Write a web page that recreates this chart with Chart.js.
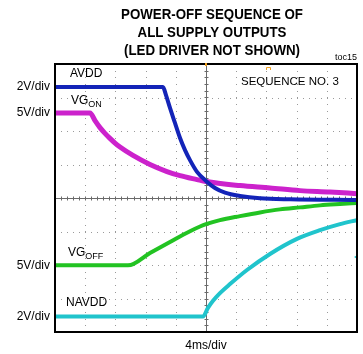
<!DOCTYPE html>
<html>
<head>
<meta charset="utf-8">
<script src="https://cdn.jsdelivr.net/npm/chart.js@4.4.1/dist/chart.umd.min.js"></script>
<style>
  html, body { margin: 0; padding: 0; background: #fff; }
  #wrap { width: 363px; height: 354px; position: relative; }
</style>
</head>
<body>
<div id="wrap"><canvas id="c" width="363" height="354"></canvas></div>
<script>
// Time in ms (4 ms/div, trigger at 0), vertical position in screen divisions
const avddT  = [-20, -5.70, -5.30, -4.77, -4.11, -3.44, -2.78, -2.12, -1.19, 0.0, 1.19, 2.52, 4.50, 7.15, 11.13, 20];
const avddV  = [3.31, 3.31, 3.07, 2.69, 2.24, 1.79, 1.43, 1.13, 0.78, 0.51, 0.30, 0.16, 0.06, -0.01, -0.04, -0.06];

const vgonT  = [-20, -15.36, -14.70, -14.04, -13.38, -12.72, -12.05, -11.39, -9.67, -7.42, -5.17, -3.44, -1.19, 0, 4.50, 8.48, 12.45, 16.42, 20];
const vgonV  = [2.54, 2.54, 2.31, 2.10, 1.93, 1.78, 1.64, 1.52, 1.27, 1.00, 0.79, 0.67, 0.55, 0.49, 0.37, 0.30, 0.22, 0.18, 0.13];

const vgoffT = [-20, -10.33, -7.42, -4.77, -2.12, -0.79, 0, 1.85, 4.50, 7.15, 9.80, 12.45, 15.10, 17.75, 20];
const vgoffV = [-2.01, -2.01, -1.64, -1.31, -0.99, -0.85, -0.78, -0.66, -0.54, -0.43, -0.34, -0.28, -0.22, -0.18, -0.15];

const navddT = [-20, -0.40, 0.26, 0.93, 1.85, 3.18, 5.43, 8.48, 12.05, 15.10, 17.75, 20];
const navddV = [-3.54, -3.54, -3.28, -3.07, -2.84, -2.57, -2.15, -1.67, -1.22, -0.96, -0.78, -0.66];

// Reference level marker for the NAVDD channel (right edge)
const navddRefLevel = [-1.76];

const titleLines = ['POWER-OFF SEQUENCE OF', 'ALL SUPPLY OUTPUTS', '(LED DRIVER NOT SHOWN)'];
const scaleLabels = ['2V/div', '5V/div', '5V/div', '2V/div'];
const scaleLabelLevels = [3.31, 2.54, -2.01, -3.54];
const xDivLabel = '4ms/div';

const pts = (t, v) => t.map((x, i) => ({ x, y: v[i] }));

const FONT = '"Liberation Sans", Arial, sans-serif';

// draws a name with a subscript right after it
function subLabel(ctx, main, sub, x, y, subDy) {
  ctx.font = '12px ' + FONT;
  ctx.fillText(main, x, y);
  const w = ctx.measureText(main).width;
  ctx.font = '9px ' + FONT;
  ctx.fillText(sub, x + w, y + subDy);
}

const scopeGrid = {
  id: 'scopeGrid',
  beforeDatasetsDraw(chart) {
    const { ctx, chartArea: a, scales: { x, y } } = chart;
    ctx.save();
    // dotted graticule
    ctx.fillStyle = '#9a9a9a';
    for (let t = -16; t <= 16; t += 4) {
      if (t === 0) continue;
      const px = Math.round(x.getPixelForValue(t));
      for (let v = -4; v <= 4.001; v += 0.2) {
        ctx.fillRect(px, Math.round(y.getPixelForValue(v)), 1, 1);
      }
    }
    for (let v = -3; v <= 3; v += 1) {
      if (v === 0) continue;
      const py = Math.round(y.getPixelForValue(v));
      for (let t = -20; t <= 20.001; t += 0.8) {
        ctx.fillRect(Math.round(x.getPixelForValue(t)), py, 1, 1);
      }
    }
    // center axes with minor ticks
    const cx = Math.round(x.getPixelForValue(0)) + 0.5;
    const cy = Math.round(y.getPixelForValue(0)) + 0.5;
    ctx.strokeStyle = '#6a6a6a';
    ctx.lineWidth = 1;
    ctx.beginPath();
    ctx.moveTo(a.left, cy); ctx.lineTo(a.right, cy);
    ctx.moveTo(cx, a.top); ctx.lineTo(cx, a.bottom);
    for (let t = -20; t <= 20.001; t += 0.8) {
      const px = Math.round(x.getPixelForValue(t)) + 0.5;
      ctx.moveTo(px, cy - 2); ctx.lineTo(px, cy + 2);
    }
    for (let v = -4; v <= 4.001; v += 0.2) {
      const py = Math.round(y.getPixelForValue(v)) + 0.5;
      ctx.moveTo(cx - 2, py); ctx.lineTo(cx + 2, py);
    }
    ctx.stroke();
    ctx.restore();
  },
  afterDraw(chart) {
    const { ctx, chartArea: a, scales: { x, y } } = chart;
    ctx.save();
    // frame
    ctx.strokeStyle = '#000';
    ctx.lineWidth = 2;
    ctx.strokeRect(a.left, a.top, a.right - a.left, a.bottom - a.top);

    // trigger markers along the top edge
    ctx.fillStyle = '#f0a020';
    ctx.fillRect(Math.round(x.getPixelForValue(0)) - 1, a.top - 1, 2, 3);
    ctx.strokeStyle = '#f0a020';
    ctx.lineWidth = 1;
    const bx = Math.round(x.getPixelForValue(8.2)) + 0.5;
    ctx.beginPath();
    ctx.moveTo(bx - 2, a.top + 6); ctx.lineTo(bx - 2, a.top + 3.5);
    ctx.lineTo(bx + 2, a.top + 3.5); ctx.lineTo(bx + 2, a.top + 6);
    ctx.stroke();

    ctx.fillStyle = '#000';
    // title, set in a condensed bold face
    ctx.font = 'bold 15px ' + FONT;
    ctx.textAlign = 'center';
    ctx.textBaseline = 'alphabetic';
    const squeeze = 182 / ctx.measureText(titleLines[0]).width;
    const base = [18.5, 36.5, 54.5];
    titleLines.forEach((s, i) => {
      ctx.save();
      ctx.translate(212, base[i]);
      ctx.scale(squeeze, 1);
      ctx.fillText(s, 0, 0);
      ctx.restore();
    });
    ctx.font = '9px ' + FONT;
    ctx.fillText('toc15', 346, 60);

    // volts/div labels beside each channel
    ctx.font = '12px ' + FONT;
    ctx.textAlign = 'right';
    ctx.textBaseline = 'middle';
    scaleLabels.forEach((s, i) => {
      ctx.fillText(s, 50, y.getPixelForValue(scaleLabelLevels[i]));
    });

    // time base
    ctx.textAlign = 'center';
    ctx.fillText(xDivLabel, x.getPixelForValue(0), 346);

    // channel names
    ctx.textAlign = 'left';
    ctx.font = '12px ' + FONT;
    ctx.fillText('AVDD', 70, 74);
    ctx.fillText('NAVDD', 66, 302.5);
    subLabel(ctx, 'VG', 'ON', 71, 100.5, 4.5);
    subLabel(ctx, 'VG', 'OFF', 68, 253, 3.5);

    ctx.font = '11.5px ' + FONT;
    ctx.fillText('SEQUENCE NO. 3', 241, 82);
    ctx.restore();
  }
};

const trace = (label, t, v, color, w) => ({
  label, data: pts(t, v), borderColor: color, backgroundColor: color,
  borderWidth: w, pointRadius: 0, cubicInterpolationMode: 'monotone', fill: false
});

new Chart(document.getElementById('c'), {
  type: 'line',
  data: {
    datasets: [
      trace('AVDD', avddT, avddV, '#1324b8', 4),
      trace('VGON', vgonT, vgonV, '#cc22cc', 5),
      trace('VGOFF', vgoffT, vgoffV, '#22c322', 4),
      trace('NAVDD', navddT, navddV, '#20c4cc', 4),
      {
        label: 'NAVDD ref', data: navddRefLevel.map(v => ({ x: 20, y: v })),
        showLine: false, pointStyle: 'triangle', rotation: -90, pointRadius: 3,
        backgroundColor: '#20c4cc', borderColor: '#20c4cc', borderWidth: 0
      }
    ]
  },
  options: {
    responsive: false,
    animation: false,
    devicePixelRatio: 1,
    layout: { padding: { left: 55, top: 64, right: 6, bottom: 22 } },
    scales: {
      x: { type: 'linear', min: -20, max: 20, display: false },
      y: { type: 'linear', min: -4, max: 4, display: false }
    },
    plugins: { legend: { display: false }, tooltip: { enabled: false }, title: { display: false } },
    elements: { line: { borderCapStyle: 'butt', borderJoinStyle: 'round' } }
  },
  plugins: [scopeGrid]
});
</script>
</body>
</html>
